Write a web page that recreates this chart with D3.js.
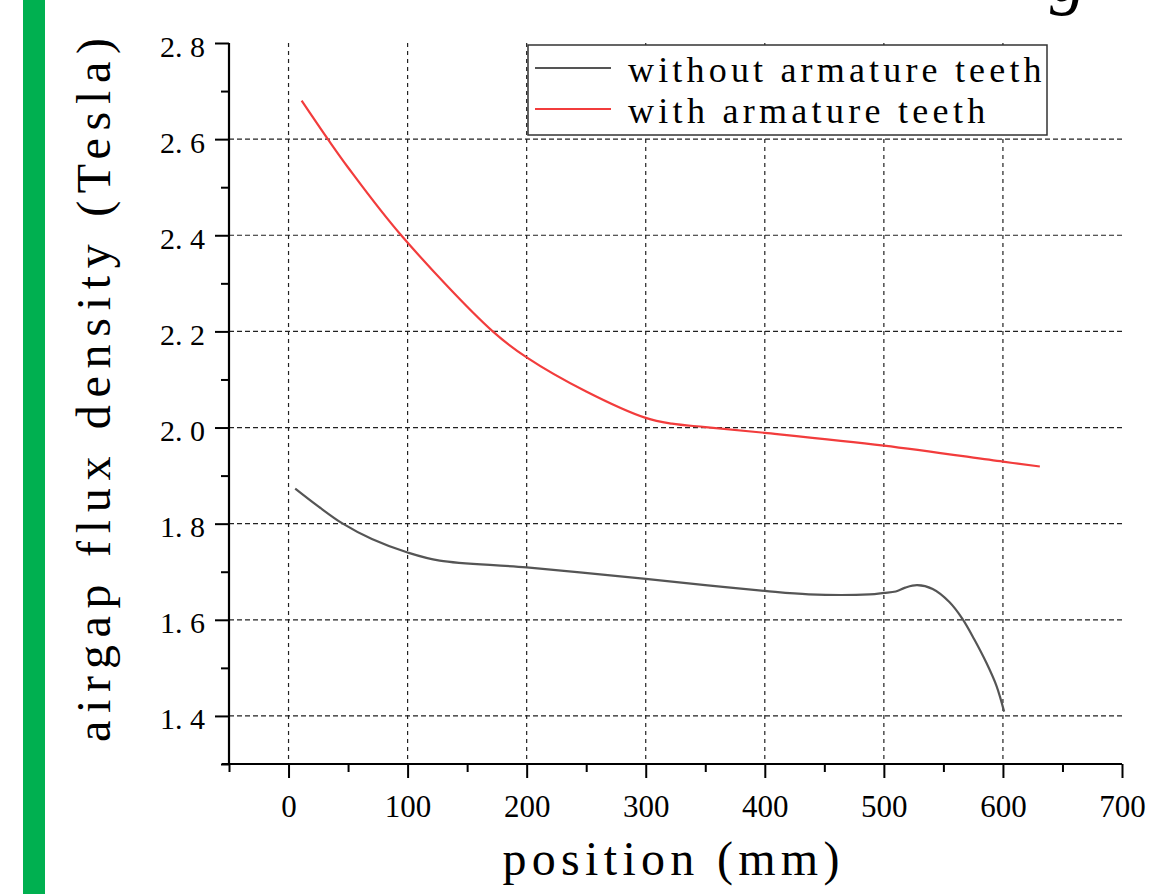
<!DOCTYPE html>
<html>
<head>
<meta charset="utf-8">
<script src="https://cdnjs.cloudflare.com/ajax/libs/d3/7.8.5/d3.min.js"></script>
<style>
	html,body { margin:0; padding:0; background:#fff; }
	svg { display:block; }
	svg text { font-family: "Liberation Serif", "Times New Roman", Times, "DejaVu Serif", serif; }
</style>
</head>
<body>
<svg id="chart" width="1153" height="894"></svg>
<script>

// position (mm) / airgap flux density (Tesla)
var posWithout	= [5.6, 25, 45.6, 70, 100, 127, 200, 300, 350, 400, 437, 488, 500, 510, 518, 528, 541, 555, 566, 576, 586, 594.5, 601];
var fluxWithout	= [1.873, 1.836, 1.800, 1.768, 1.740, 1.723, 1.709, 1.685, 1.672, 1.660, 1.653, 1.653, 1.656, 1.659, 1.667, 1.672, 1.664, 1.637, 1.602, 1.559, 1.511, 1.463, 1.409];

var posWith		= [11, 33, 50, 94.6, 171.5, 200, 250, 300, 322, 350, 400, 500, 600, 631];
var fluxWith	= [2.680, 2.600, 2.541, 2.400, 2.200, 2.146, 2.075, 2.020, 2.008, 2.001, 1.989, 1.9625, 1.929, 1.919];

var seriesNames	= ['without armature teeth', 'with armature teeth'];
var seriesColors	= ['#555555', '#f23c3c'];

var xMajor	= [0, 100, 200, 300, 400, 500, 600, 700];
var xMinor	= [-50, 50, 150, 250, 350, 450, 550, 650];
var yMajor	= [1.4, 1.6, 1.8, 2.0, 2.2, 2.4, 2.6, 2.8];
var yMinor	= [1.3, 1.5, 1.7, 1.9, 2.1, 2.3, 2.5, 2.7];

var xTitle	= 'position (mm)';
var yTitle	= 'airgap flux density (Tesla)';


//------------------------------------------------------------------
//
//------------------------------------------------------------------
function drawChart()	{

	var svg	= d3.select('#chart'),
			L		= 229,
			R		= 1122,
			T		= 43,
			B		= 764,
			x		= d3.scaleLinear().domain([-50, 700]).range([L, R]),
			y		= d3.scaleLinear().domain([1.3, 2.8]).range([B, T]);

	// green side bar + clipped glyph from the page above
	svg.append('rect')
		.attr('x', 23).attr('y', 0).attr('width', 22).attr('height', 894)
		.attr('fill', '#00b050');

	svg.append('text')
		.attr('x', 1050).attr('y', 1)
		.attr('font-style', 'italic')
		.attr('font-size', 72).attr('fill', '#000')
		.text('g');

	// grid
	svg.append('g').attr('class', 'grid')
		.call(sel=>{

			sel.selectAll('.gx').data(xMajor.filter(d=>d > -50 && d < 700))
				.enter()
					.append('line')
						.attr('class', 'gx')
						.attr('x1', d=>x(d)).attr('x2', d=>x(d))
						.attr('y1', T).attr('y2', B)
						.attr('stroke', '#222').attr('stroke-width', 1.2)
						.attr('stroke-dasharray', '4,4');

			sel.selectAll('.gy').data(yMajor.filter(d=>d < 2.8))
				.enter()
					.append('line')
						.attr('class', 'gy')
						.attr('x1', L).attr('x2', R)
						.attr('y1', d=>y(d)).attr('y2', d=>y(d))
						.attr('stroke', '#222').attr('stroke-width', 1.2)
						.attr('stroke-dasharray', '5,3');

		});

	// curves
	var line = d3.line()
		.x(d=>x(d[0]))
		.y(d=>y(d[1]))
		.curve(d3.curveCatmullRom.alpha(0.5));

	var series = [
		d3.zip(posWithout, fluxWithout),
		d3.zip(posWith, fluxWith),
	];

	svg.append('g').attr('class', 'lines')
		.selectAll('path').data(series)
		.enter()
			.append('path')
				.attr('d', line)
				.attr('fill', 'none')
				.attr('stroke', (d,i)=>seriesColors[i])
				.attr('stroke-width', 2.2)
				.attr('stroke-linejoin', 'round');

	// axes
	var fmt = d=>d3.format('.1f')(d).replace('.', '. ');

	svg.append('g')
		.attr('transform', 'translate(0,'+B+')')
		.call(d3.axisBottom(x).tickValues(xMinor).tickSize(8).tickSizeOuter(0).tickFormat(''))
		.call(sel=>{ sel.select('.domain').remove(); sel.selectAll('line').attr('stroke', '#000').attr('stroke-width', 2); });

	svg.append('g')
		.attr('transform', 'translate('+L+',0)')
		.call(d3.axisLeft(y).tickValues(yMinor).tickSize(8).tickSizeOuter(0).tickFormat(''))
		.call(sel=>{ sel.select('.domain').remove(); sel.selectAll('line').attr('stroke', '#000').attr('stroke-width', 2); });

	svg.append('g')
		.attr('transform', 'translate(0,'+B+')')
		.call(d3.axisBottom(x).tickValues(xMajor).tickSize(14).tickSizeOuter(0).tickPadding(4).tickFormat(d3.format('d')))
		.call(sel=>{
			sel.attr('font-family', null);
			sel.select('.domain').attr('stroke', '#000').attr('stroke-width', 2.2).attr('d', 'M'+(L-7)+',0H'+R);
			sel.selectAll('line').attr('stroke', '#000').attr('stroke-width', 2);
			sel.selectAll('text')
				.attr('font-size', 31).attr('fill', '#000')
				.attr('dy', null).attr('y', 53);
		});

	svg.append('g')
		.attr('transform', 'translate('+L+',0)')
		.call(d3.axisLeft(y).tickValues(yMajor).tickSize(14).tickSizeOuter(0).tickPadding(10).tickFormat(fmt))
		.call(sel=>{
			sel.attr('font-family', null);
			sel.select('.domain').attr('stroke', '#000').attr('stroke-width', 2.2).attr('d', 'M0,'+T+'V'+B);
			sel.selectAll('line').attr('stroke', '#000').attr('stroke-width', 2);
			sel.selectAll('text')
				.attr('font-size', 30).attr('fill', '#000')
				.attr('dy', null).attr('y', 13).attr('x', -24);
		});

	// titles
	svg.append('text')
		.attr('x', 671).attr('y', 875)
		.attr('text-anchor', 'middle')
		.attr('font-size', 48).attr('fill', '#000')
		.attr('textLength', 337).attr('lengthAdjust', 'spacing')
		.text(xTitle);

	svg.append('text')
		.attr('transform', 'translate(110,390) rotate(-90)')
		.attr('text-anchor', 'middle')
		.attr('font-size', 48).attr('fill', '#000')
		.attr('textLength', 704).attr('lengthAdjust', 'spacing')
		.text(yTitle);

	// legend
	svg.append('g').attr('class', 'legend')
		.call(sel=>{

			sel.append('rect')
				.attr('x', 528).attr('y', 45).attr('width', 519).attr('height', 90)
				.attr('fill', '#fff').attr('stroke', '#333').attr('stroke-width', 1.5);

			var row = sel.selectAll('.row').data(seriesNames)
				.enter()
					.append('g')
						.attr('class', 'row')
						.attr('transform', (d,i)=>'translate(0,'+(i*41)+')');

			row.append('line')
				.attr('x1', 535).attr('x2', 611).attr('y1', 68).attr('y2', 68)
				.attr('stroke', (d,i)=>seriesColors[i]).attr('stroke-width', 2);

			row.append('text')
				.attr('x', 628).attr('y', 82)
				.attr('font-size', 36).attr('fill', '#000')
				.attr('textLength', (d)=>d.length*18.8).attr('lengthAdjust', 'spacing')
				.text(d=>d);

		});

}

drawChart();

</script>
</body>
</html>
